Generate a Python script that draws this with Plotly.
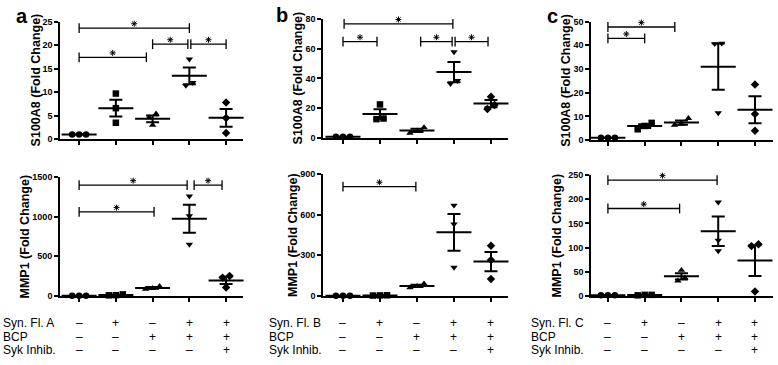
import plotly.graph_objects as go

W, H = 778, 365
FONT = "Liberation Sans, Arial, sans-serif"

# ---------------- data ----------------
group_symbols = ["circle", "square", "triangle-up", "triangle-down", "diamond"]
row_labels_a = ["Syn. Fl. A", "BCP", "Syk Inhib."]
row_labels_b = ["Syn. Fl. B", "BCP", "Syk Inhib."]
row_labels_c = ["Syn. Fl. C", "BCP", "Syk Inhib."]
syn_row = ["–", "+", "–", "+", "+"]
bcp_row = ["–", "–", "+", "+", "+"]
syk_row = ["–", "–", "–", "–", "+"]

a_s100a8 = [[1, 1, 1], [9.7, 6.6, 3.5], [5.4, 4.6, 3.0], [17.0, 12.0, 11.4], [7.8, 4.5, 1.3]]
a_mmp1 = [[1, 1, 1], [18, 6, 8], [120, 95, 85], [1260, 1010, 650], [250, 230, 105]]
b_s100a8 = [[1, 1, 1], [22.6, 12.8, 13.2], [7.2, 5.0, 3.5], [57.7, 38.5, 36.5], [27.8, 22.2, 19.5]]
b_mmp1 = [[1, 1, 1], [3, 2, 4], [90, 70, 60], [670, 530, 210], [370, 265, 125]]
c_s100a8 = [[1, 1, 1], [7.3, 6.0, 4.6], [9.2, 6.8, 6.3], [40.8, 40.6, 11.5], [23.5, 11.0, 4.0]]
c_mmp1 = [[1, 1, 1], [2, 1, 2], [53, 37, 31], [194, 115, 93], [107, 103, 9]]

a_s100a8_ticks = [0, 5, 10, 15, 20, 25]
a_mmp1_ticks = [0, 500, 1000, 1500]
b_s100a8_ticks = [0, 20, 40, 60, 80]
b_mmp1_ticks = [0, 300, 600, 900]
c_s100a8_ticks = [0, 10, 20, 30, 40, 50]
c_mmp1_ticks = [0, 50, 100, 150, 200, 250]

# significance brackets: (from group, to group, height)
a_s100a8_sig = [(0, 3, 23.6), (0, 1.83, 17.4), (2, 2.96, 20.2), (3.04, 4, 20.2)]
a_mmp1_sig = [(0, 2.94, 1400), (3.13, 3.89, 1400), (0, 2.04, 1060)]
b_s100a8_sig = [(0.03, 2.97, 76.5), (0, 0.92, 64.6), (2.1, 2.95, 64.6), (3.03, 3.92, 64.6)]
b_mmp1_sig = [(0, 1.97, 808)]
c_s100a8_sig = [(0, 1.82, 47.7), (0, 1.0, 42.9)]
c_mmp1_sig = [(0, 2.97, 240), (0, 1.95, 181)]

# ---------------- layout geometry (px) ----------------
panels = [
    dict(data=a_s100a8, ticks=a_s100a8_ticks, sig=a_s100a8_sig, xpx=(60, 243), xr=(-0.52, 4.46),
         ypx=(17, 138), title="S100A8 (Fold Change)", tx=36),
    dict(data=a_mmp1, ticks=a_mmp1_ticks, sig=a_mmp1_sig, xpx=(60, 243), xr=(-0.52, 4.46),
         ypx=(177, 299), title="MMP1 (Fold Change)", tx=25),
    dict(data=b_s100a8, ticks=b_s100a8_ticks, sig=b_s100a8_sig, xpx=(323, 508), xr=(-0.54, 4.46),
         ypx=(14, 137), title="S100A8 (Fold Change)", tx=298),
    dict(data=b_mmp1, ticks=b_mmp1_ticks, sig=b_mmp1_sig, xpx=(323, 508), xr=(-0.54, 4.46),
         ypx=(174, 299), title="MMP1 (Fold Change)", tx=293),
    dict(data=c_s100a8, ticks=c_s100a8_ticks, sig=c_s100a8_sig, xpx=(591, 773), xr=(-0.46, 4.49),
         ypx=(17, 139), title="S100A8 (Fold Change)", tx=566),
    dict(data=c_mmp1, ticks=c_mmp1_ticks, sig=c_mmp1_sig, xpx=(591, 773), xr=(-0.46, 4.49),
         ypx=(175, 299), title="MMP1 (Fold Change)", tx=557),
]


def mean_sem(v):
    n = len(v)
    m = sum(v) / n
    sd = (sum((x - m) ** 2 for x in v) / (n - 1)) ** 0.5
    return m, sd / n ** 0.5


def jitter(vals, thr, step=0.19):
    idx = sorted(range(len(vals)), key=lambda i: vals[i])
    offs = [0.0] * len(vals)
    clusters, cur = [], [idx[0]]
    for i in idx[1:]:
        if abs(vals[i] - vals[cur[-1]]) < thr:
            cur.append(i)
        else:
            clusters.append(cur)
            cur = [i]
    clusters.append(cur)
    for cl in clusters:
        n = len(cl)
        for k, i in enumerate(cl):
            offs[i] = (k - (n - 1) / 2) * step
    return offs


fig = go.Figure()
layout = dict(width=W, height=H, margin=dict(l=0, r=0, t=0, b=0),
              paper_bgcolor="white", plot_bgcolor="white", showlegend=False,
              font=dict(family=FONT, color="black"))
annotations = []

for p_i, p in enumerate(panels):
    k = "" if p_i == 0 else str(p_i + 1)
    xa, ya = "x" + k, "y" + k
    y0, y1 = p["ticks"][0], p["ticks"][-1]
    ppu = (p["ypx"][1] - p["ypx"][0]) / (y1 - y0)
    layout["xaxis" + k] = dict(
        domain=[p["xpx"][0] / W, p["xpx"][1] / W], range=list(p["xr"]), anchor=ya,
        showgrid=False, zeroline=False, showline=True, linecolor="black", linewidth=1.6,
        tickmode="array", tickvals=list(range(5)), ticks="outside", ticklen=4, tickwidth=1.6,
        tickcolor="black", showticklabels=False, fixedrange=True)
    layout["yaxis" + k] = dict(
        domain=[1 - p["ypx"][1] / H, 1 - p["ypx"][0] / H], range=[y0, y1], anchor=xa,
        showgrid=False, zeroline=False, showline=True, linecolor="black", linewidth=1.6,
        tickmode="array", tickvals=p["ticks"], ticks="outside", ticklen=4, tickwidth=1.6,
        tickcolor="black", tickfont=dict(size=9, weight="bold", family=FONT, color="black"),
        fixedrange=True)

    for g, vals in enumerate(p["data"]):
        offs = jitter(vals, 6 / ppu)
        fig.add_trace(go.Scatter(
            x=[g + o for o in offs], y=vals, mode="markers", xaxis=xa, yaxis=ya,
            cliponaxis=False, hoverinfo="skip",
            marker=dict(symbol=group_symbols[g], size=6.5, color="black", line=dict(width=0))))
        m, s = mean_sem(vals)
        fig.add_trace(go.Scatter(
            x=[g], y=[m], mode="markers", xaxis=xa, yaxis=ya, cliponaxis=False, hoverinfo="skip",
            marker=dict(symbol="line-ew-open", size=25, color="black",
                        line=dict(width=2, color="black")),
            error_y=dict(type="data", array=[s], symmetric=True, visible=True,
                         color="black", thickness=2, width=6.5)))

    for (s0, s1, h) in p["sig"]:
        fig.add_trace(go.Scatter(
            x=[s0, s1], y=[h, h], mode="lines+markers", xaxis=xa, yaxis=ya, cliponaxis=False,
            hoverinfo="skip", line=dict(color="black", width=1.3),
            marker=dict(symbol="line-ns-open", size=7, color="black",
                        line=dict(width=1.3, color="black"))))
        # significance star, drawn a few pixels above the bracket
        fig.add_trace(go.Scatter(
            x=[(s0 + s1) / 2], y=[h + 4.5 / ppu], mode="markers", xaxis=xa, yaxis=ya,
            cliponaxis=False, hoverinfo="skip",
            marker=dict(symbol="asterisk-open", size=5, color="black",
                        line=dict(width=1, color="black"))))

    annotations.append(dict(x=p["tx"] / W, y=1 - (p["ypx"][0] + p["ypx"][1]) / 2 / H,
                            xref="paper", yref="paper", text=p["title"], textangle=-90,
                            showarrow=False, xanchor="center", yanchor="middle",
                            font=dict(size=12.5, weight="bold", family=FONT, color="black")))

# condition rows under the bottom panels
row_y = [327, 341, 355]
for labels, lx, xa in [(row_labels_a, 1, "x2"), (row_labels_b, 267, "x4"), (row_labels_c, 529, "x6")]:
    for r, (lab, signs) in enumerate(zip(labels, [syn_row, bcp_row, syk_row])):
        annotations.append(dict(x=lx / W, y=1 - row_y[r] / H, xref="paper", yref="paper",
                                text=lab, showarrow=False, xanchor="left", yanchor="middle",
                                font=dict(size=12, family=FONT, color="black")))
        for g, sgn in enumerate(signs):
            annotations.append(dict(x=g, y=1 - row_y[r] / H, xref=xa, yref="paper",
                                    text=sgn, showarrow=False, xanchor="center", yanchor="middle",
                                    font=dict(size=12, family=FONT, color="black")))

# panel letters
for letter, px, py in [("a", 22, 11), ("b", 282, 10), ("c", 552, 11)]:
    annotations.append(dict(x=px / W, y=1 - py / H, xref="paper", yref="paper", text=letter,
                            showarrow=False, xanchor="center", yanchor="middle",
                            font=dict(size=20, weight="bold", family=FONT, color="black")))

layout["annotations"] = annotations
fig.update_layout(**layout)
fig.write_html("out.html", config={"displayModeBar": False},
               post_script="document.body.style.margin='0';")
